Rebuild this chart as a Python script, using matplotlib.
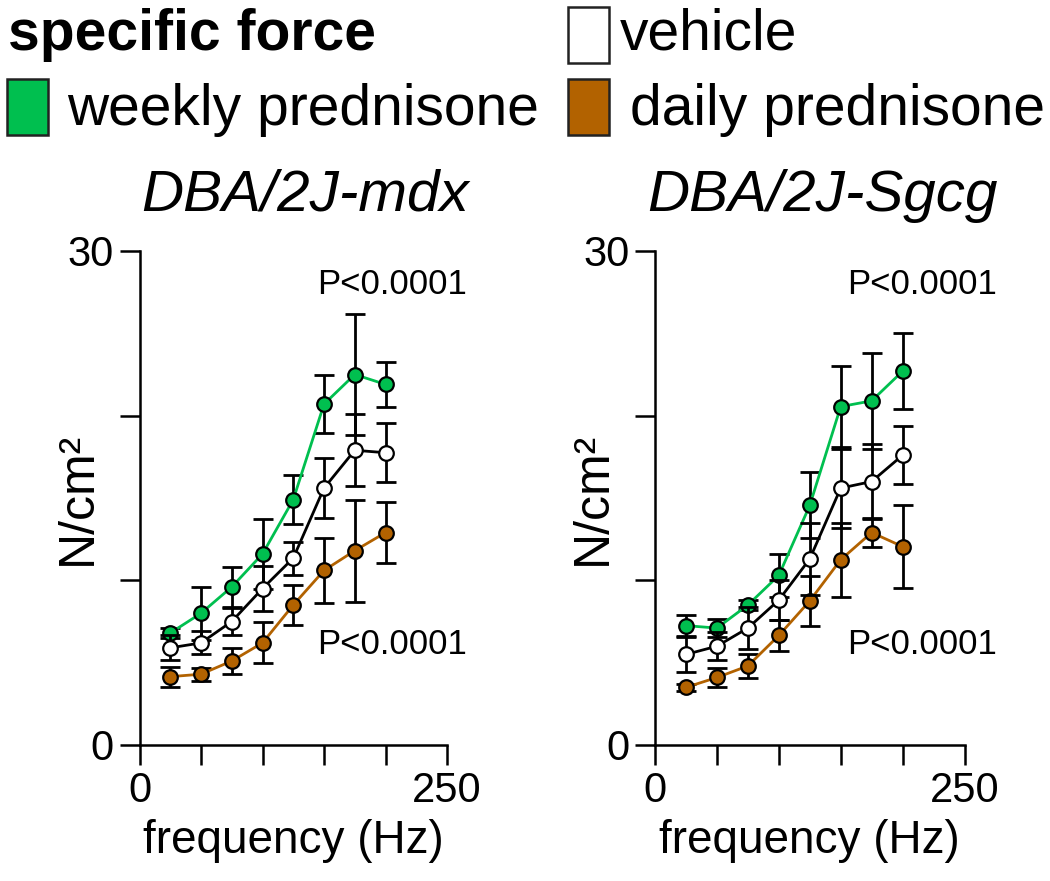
import matplotlib
matplotlib.use("Agg")
import matplotlib.pyplot as plt
from matplotlib.patches import Rectangle
import numpy as np

plt.rcParams["font.family"] = ["Liberation Sans", "DejaVu Sans"]

freq = [25, 50, 75, 100, 125, 150, 175, 200]

# DBA/2J-mdx
mdx_weekly = [6.8, 8.0, 9.6, 11.6, 14.9, 20.7, 22.5, 21.9]
mdx_weekly_err = [0.3, 1.6, 1.2, 2.1, 1.5, 1.75, 3.7, 1.35]
mdx_vehicle = [5.9, 6.2, 7.5, 9.5, 11.35, 15.6, 17.9, 17.75]
mdx_vehicle_err = [0.75, 0.7, 0.8, 1.35, 1.0, 1.8, 2.2, 1.8]
mdx_daily = [4.15, 4.3, 5.1, 6.2, 8.5, 10.6, 11.8, 12.9]
mdx_daily_err = [0.6, 0.4, 0.8, 1.25, 1.2, 2.0, 3.1, 1.85]

# DBA/2J-Sgcg
sgcg_weekly = [7.25, 7.1, 8.5, 10.3, 14.55, 20.55, 20.9, 22.7]
sgcg_weekly_err = [0.65, 0.55, 0.3, 1.3, 2.0, 2.45, 2.9, 2.3]
sgcg_vehicle = [5.5, 6.0, 7.1, 8.8, 11.3, 15.6, 16.0, 17.6]
sgcg_vehicle_err = [1.05, 0.85, 1.3, 1.2, 2.2, 2.4, 2.25, 1.75]
sgcg_daily = [3.5, 4.1, 4.8, 6.65, 8.75, 11.25, 12.9, 12.05]
sgcg_daily_err = [0.2, 0.6, 0.75, 0.95, 1.5, 2.25, 0.9, 2.5]

titles = ["DBA/2J-mdx", "DBA/2J-Sgcg"]
p_text = "P<0.0001"
p_x = [266, 276]
p_y_top = 27.4
p_y_bottom = 5.5

green = "#00BF4F"
brown = "#B26200"

panels = [
    (mdx_weekly, mdx_weekly_err, mdx_vehicle, mdx_vehicle_err, mdx_daily, mdx_daily_err),
    (sgcg_weekly, sgcg_weekly_err, sgcg_vehicle, sgcg_vehicle_err, sgcg_daily, sgcg_daily_err),
]

W, H = 1050, 881
fig = plt.figure(figsize=(W / 100, H / 100), dpi=100)
axes = [
    fig.add_axes([139.5 / W, 1 - 745 / H, 307.5 / W, 494 / H]),
    fig.add_axes([655 / W, 1 - 745 / H, 309.5 / W, 494 / H]),
]

for i, ax in enumerate(axes):
    wk, wke, vh, vhe, dl, dle = panels[i]
    series = [
        (wk, wke, green, green, 3),
        (dl, dle, brown, brown, 4),
        (vh, vhe, "black", "white", 5),
    ]
    for vals, errs, lc, fc, z in series:
        ax.errorbar(freq, vals, yerr=errs, fmt="none", ecolor="black",
                    elinewidth=2, capsize=7.5, capthick=2, zorder=z)
        ax.plot(freq, vals, color=lc, lw=2, zorder=z,
                marker="o", markersize=10.5, markerfacecolor=fc,
                markeredgecolor="black", markeredgewidth=1.6)

    ax.set_xlim(0, 250)
    ax.set_ylim(0, 30)
    ax.set_xticks([0, 50, 100, 150, 200, 250])
    ax.set_xticklabels(["0", "", "", "", "", "250"])
    ax.set_yticks([0, 10, 20, 30])
    ax.set_yticklabels(["0", "", "", "30"])
    for s in ["top", "right"]:
        ax.spines[s].set_visible(False)
    for s in ["left", "bottom"]:
        ax.spines[s].set_linewidth(1.8)
    ax.tick_params(axis="both", direction="out", length=14.5, width=1.8,
                   labelsize=30, pad=4)

    ax.set_title(titles[i], fontsize=42, style="italic", pad=29, x=0.54)
    ax.set_xlabel("frequency (Hz)", fontsize=33, labelpad=6)
    ax.set_ylabel("N/cm²", fontsize=36)
    ax.yaxis.set_label_coords(-0.125, 0.5)

    ax.text(p_x[i], p_y_top, p_text, ha="right", va="baseline",
            fontsize=25, clip_on=False)
    ax.text(p_x[i], p_y_bottom, p_text, ha="right", va="baseline",
            fontsize=25, clip_on=False)

# legend block
fig.text(8 / W, 1 - 50 / H, "specific force", fontsize=41, fontweight="bold",
         ha="left", va="baseline")
legend_items = [
    ("vehicle", "white", 568, 7, 620, 50),
    ("weekly prednisone", green, 7, 79, 67, 125),
    ("daily prednisone", brown, 568, 79, 630, 125),
]
for label, col, bx, by, tx, ty in legend_items:
    fig.patches.append(Rectangle((bx / W, 1 - (by + 56) / H), 41 / W, 56 / H,
                                 transform=fig.transFigure, facecolor=col,
                                 edgecolor="#222222", lw=1.8))
    fig.text(tx / W, 1 - ty / H, label, fontsize=41, ha="left", va="baseline")

fig.savefig("out.png", dpi=100)
